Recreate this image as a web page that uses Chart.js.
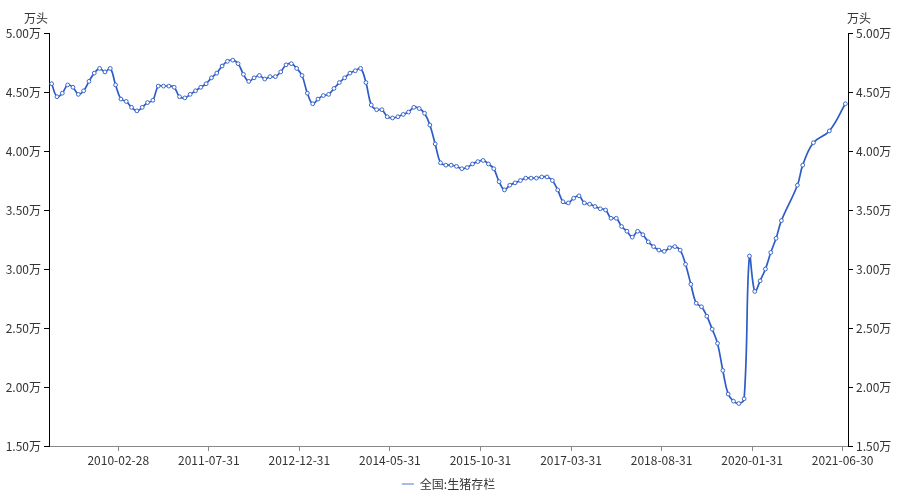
<!DOCTYPE html>
<html>
<head>
<meta charset="utf-8">
<script src="https://cdn.jsdelivr.net/npm/chart.js@4/dist/chart.umd.min.js"></script>
<style>
  html, body { margin: 0; padding: 0; background: #fff; }
  #wrap { width: 914px; height: 500px; }
</style>
</head>
<body>
<div id="wrap"><canvas id="c"></canvas></div>
<script>
// monthly series, first value = 2009-01
const startYear = 2009;
const startMonth = 1;
const seriesName = '全国:生猪存栏';
const unitLabel = '万头';

// 万 (of 万头); null = month not reported
const stock = [
    4.57, 4.46, 4.49, 4.56, 4.54, 4.48, 4.51, 4.59, 4.66, 4.70, 4.67, 4.70,
    4.56, 4.44, 4.42, 4.37, 4.34, 4.37, 4.41, 4.43, 4.55, 4.55, 4.55, 4.54,
    4.46, 4.45, 4.48, 4.51, 4.54, 4.57, 4.62, 4.66, 4.72, 4.76, 4.77, 4.74,
    4.65, 4.59, 4.62, 4.64, 4.61, 4.63, 4.63, 4.67, 4.73, 4.74, 4.70, 4.64,
    4.49, 4.40, 4.44, 4.47, 4.48, 4.53, 4.58, 4.62, 4.66, 4.68, 4.70, 4.58,
    4.39, 4.35, 4.35, 4.29, 4.28, 4.29, 4.31, 4.33, 4.37, 4.36, 4.32, 4.22,
    4.06, 3.90, 3.88, 3.88, 3.87, 3.85, 3.86, 3.89, 3.91, 3.92, 3.89, 3.85,
    3.74, 3.67, 3.71, 3.73, 3.75, 3.77, 3.77, 3.77, 3.78, 3.78, 3.75, 3.67,
    3.57, 3.56, 3.60, 3.62, 3.56, 3.55, 3.53, 3.51, 3.50, 3.43, 3.43, 3.36,
    3.32, 3.27, 3.32, 3.29, 3.23, 3.19, 3.16, 3.15, 3.18, 3.19, 3.16, 3.04,
    2.87, 2.71, 2.68, 2.60, 2.49, 2.37, 2.14, 1.94, 1.88, 1.86, 1.90, 3.11,
    2.81, 2.90, 3.00, 3.14, 3.26, 3.41, null, null, 3.71, 3.88, null, 4.07,
    null, null, 4.17, null, null, 4.40
];

const tickLabels = [
    '2010-02-28', '2011-07-31', '2012-12-31', '2014-05-31', '2015-10-31',
    '2017-03-31', '2018-08-31', '2020-01-31', '2021-06-30'
];

function monthIndex(s) {
    const [y, m] = s.split('-').map(Number);
    return (y - startYear) * 12 + (m - startMonth);
}

const points = stock.map((v, i) => ({ x: i, y: v }));
const font = { family: '"Noto Sans CJK SC", "Noto Sans", sans-serif', size: 12 };
const textColor = '#333';

const yAxis = (position, width) => ({
    position: position,
    min: 1.5,
    max: 5,
    afterFit: s => { s.width = width; },
    ticks: {
        stepSize: 0.5,
        padding: 3,
        color: textColor,
        font: font,
        callback: v => v.toFixed(2) + '万'
    },
    grid: { drawOnChartArea: false, tickLength: 5, color: '#000' },
    border: { color: '#000' }
});

const unitTitles = {
    id: 'unitTitles',
    afterDraw(chart) {
        const ctx = chart.ctx;
        const area = chart.chartArea;
        ctx.save();
        ctx.font = `${font.size}px ${font.family}`;
        ctx.fillStyle = textColor;
        ctx.textBaseline = 'middle';
        ctx.textAlign = 'right';
        ctx.fillText(unitLabel, area.left - 1, 18);
        ctx.textAlign = 'left';
        ctx.fillText(unitLabel, area.right - 1, 18);
        ctx.restore();
    }
};

new Chart(document.getElementById('c'), {
    type: 'line',
    data: {
        datasets: [{
            label: seriesName,
            data: points,
            yAxisID: 'y',
            borderColor: '#2c5cc8',
            borderWidth: 1.7,
            tension: 0.4,
            spanGaps: true,
            pointRadius: 1.9,
            pointBorderWidth: 1,
            pointBackgroundColor: '#fff',
            pointBorderColor: '#3a66c9'
        }]
    },
    options: {
        responsive: true,
        maintainAspectRatio: false,
        animation: false,
        layout: { padding: { top: 33, left: 0, right: 0, bottom: 0 } },
        plugins: {
            tooltip: { enabled: false },
            legend: {
                display: true,
                position: 'bottom',
                fullSize: false,
                labels: {
                    color: textColor,
                    font: font,
                    padding: 8,
                    usePointStyle: true,
                    pointStyle: 'line',
                    pointStyleWidth: 12,
                    generateLabels: chart => [{
                        text: seriesName,
                        fontColor: textColor,
                        strokeStyle: '#8aa4dc',
                        fillStyle: '#8aa4dc',
                        lineWidth: 1.5,
                        pointStyle: 'line',
                        datasetIndex: 0
                    }]
                }
            }
        },
        scales: {
            x: {
                type: 'linear',
                min: -0.5,
                max: stock.length - 0.5,
                afterFit: s => { s.height = 24; },
                afterBuildTicks: s => {
                    s.ticks = tickLabels.map(l => ({ value: monthIndex(l) - 0.5 }));
                },
                ticks: {
                    autoSkip: false,
                    maxRotation: 0,
                    padding: 2,
                    color: textColor,
                    font: font,
                    callback: (v, i) => tickLabels[i]
                },
                grid: { drawOnChartArea: false, tickLength: 5, color: '#888' },
                border: { color: '#888' }
            },
            y: yAxis('left', 49),
            y2: yAxis('right', 66)
        }
    },
    plugins: [unitTitles]
});
</script>
</body>
</html>
